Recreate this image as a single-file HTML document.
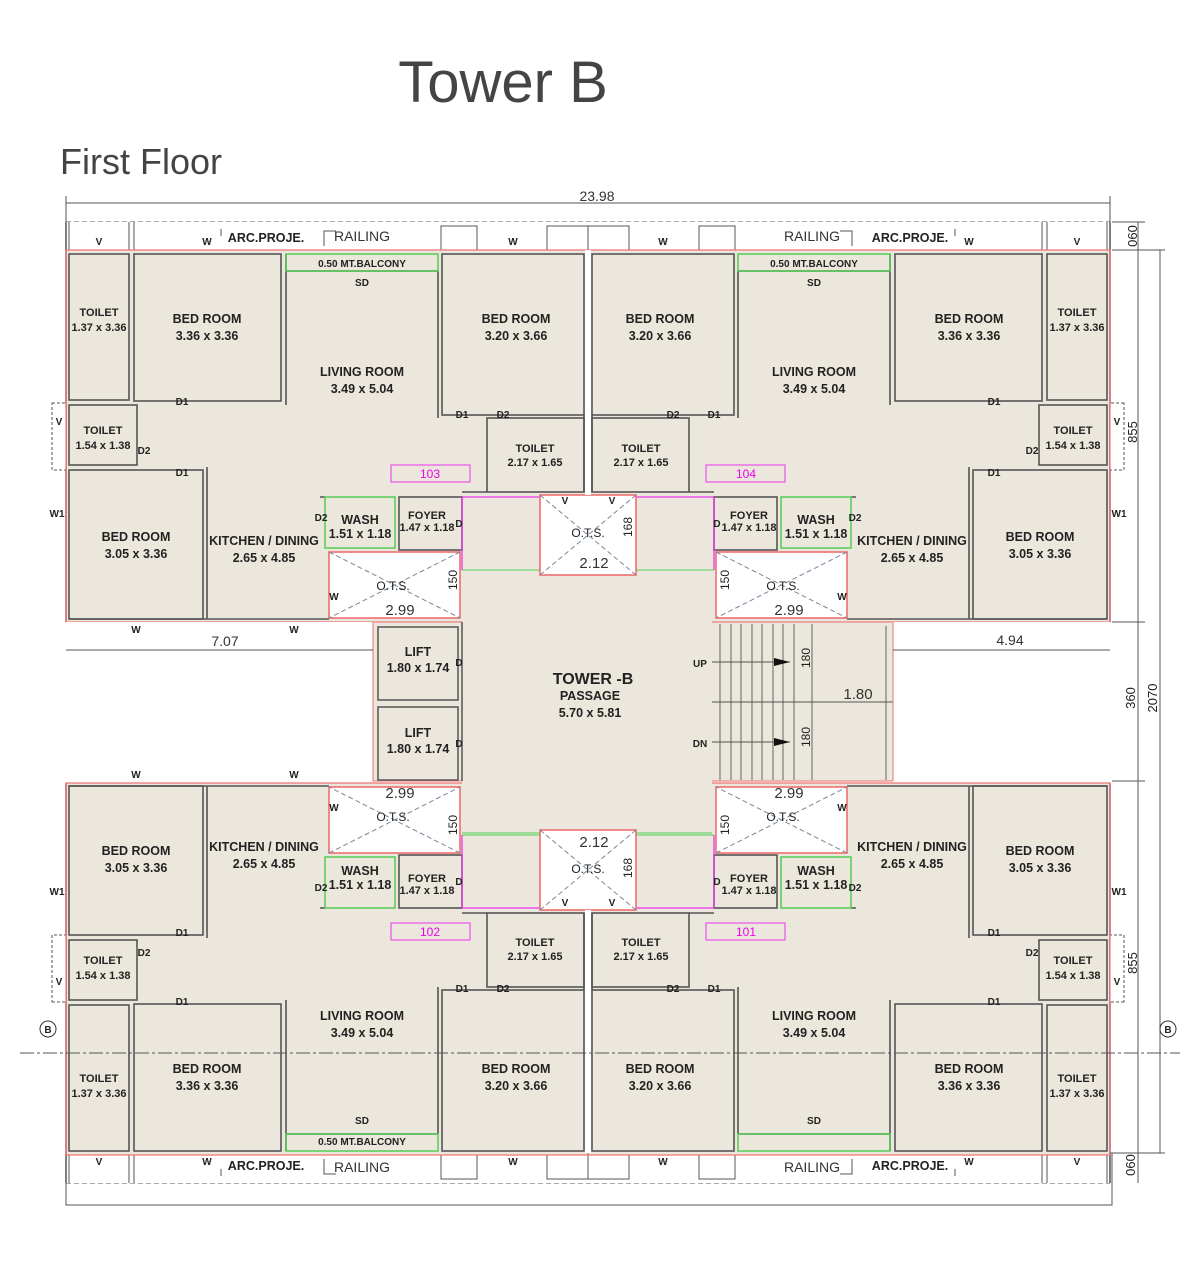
<!DOCTYPE html>
<html><head><meta charset="utf-8"><style>
html,body{margin:0;padding:0;background:#fff;}
svg{display:block}
.t{font-family:"Liberation Sans Narrow","Liberation Sans",sans-serif;fill:#222;text-anchor:middle;}
.n{font-size:12.5px;font-weight:bold;}
.d{font-size:12px;}
.s{font-size:10px;font-weight:bold;}
.m{font-size:15px;fill:#333;}
</style></head><body>
<svg width="1200" height="1276" viewBox="0 0 1200 1276" xmlns="http://www.w3.org/2000/svg">
<defs>
<g id="q">
 <rect x="66" y="250" width="522" height="372" fill="#ebe7dc"/>
 <!-- top strip -->
 <rect x="66" y="222" width="522" height="28" fill="#fff"/>
 <line x1="66" y1="222" x2="66" y2="622" stroke="#555" stroke-width="1.5"/>
 <line x1="69" y1="222" x2="69" y2="250" stroke="#555"/>
 <line x1="129" y1="222" x2="129" y2="250" stroke="#555"/>
 <line x1="134" y1="222" x2="134" y2="250" stroke="#555"/>
 <rect x="441" y="226" width="36" height="24" fill="#fff" stroke="#555"/>
 <rect x="547" y="226" width="41" height="24" fill="#fff" stroke="#555"/>
 <path d="M221 236 V229 M324 246 V231 H336" stroke="#555" fill="none"/>
 <!-- side bump -->
 <rect x="52" y="403" width="14" height="67" fill="#fff" stroke="#555" stroke-dasharray="3,2"/>
 <!-- rooms -->
 <g fill="none" stroke="#555" stroke-width="1.6">
  <rect x="69" y="254" width="60" height="146"/>
  <rect x="134" y="254" width="147" height="147"/>
  <rect x="442" y="254" width="142" height="161"/>
  <rect x="69" y="405" width="68" height="60"/>
  <rect x="69" y="470" width="134" height="149"/>
  <rect x="487" y="418" width="97" height="74"/>
  <rect x="399" y="497" width="63" height="53"/>
  <path d="M286 254 V405 M438 271 V418 M207 467 V619 M69 619 H329 M286 271 H438 M320 497 H325 M462 492 H487 M584 415 V492"/>
 </g>
 <rect x="286" y="254" width="152" height="17" fill="none" stroke="#5c5" stroke-width="1.5"/>
 <rect x="325" y="497" width="70" height="51" fill="none" stroke="#5c5" stroke-width="1.5"/>
 <rect x="329" y="552" width="131" height="66" fill="#fff" stroke="#e66" stroke-width="1.5"/>
 <path d="M329 552 L460 618 M460 552 L329 618" stroke="#789" stroke-dasharray="5,3"/>
 <path d="M462 497 V570 M462 497 H540" stroke="#e3e" stroke-width="1.3"/>
 <line x1="462" y1="570" x2="540" y2="570" stroke="#5c5"/>
 <rect x="391" y="465" width="79" height="17" fill="none" stroke="#e3e"/>
 <rect x="66" y="250" width="522" height="372" fill="none" stroke="#f07070" stroke-width="1.2"/>
</g>
</defs>

<text x="503" y="102" style="font-family:'Liberation Sans',sans-serif;font-size:58px;fill:#444;text-anchor:middle">Tower B</text>
<text x="60" y="174" style="font-family:'Liberation Sans',sans-serif;font-size:36px;fill:#444">First Floor</text>

<!-- outer dims -->
<line x1="66" y1="203" x2="1110" y2="203" stroke="#555"/>
<line x1="66" y1="196" x2="66" y2="222" stroke="#555"/>
<line x1="1110" y1="196" x2="1110" y2="222" stroke="#555"/>
<text class="t m" x="597" y="201" style="font-size:14px">23.98</text>
<line x1="66" y1="222" x2="1110" y2="222" stroke="#555" stroke-dasharray="5,3"/>
<line x1="66" y1="1183" x2="1110" y2="1183" stroke="#555" stroke-dasharray="5,3"/>
<rect x="66" y="1153" width="1046" height="52" fill="none" stroke="#555"/>

<use href="#q"/>
<use href="#q" transform="translate(1176,0) scale(-1,1)"/>
<use href="#q" transform="translate(0,1405) scale(1,-1)"/>
<use href="#q" transform="translate(1176,1405) scale(-1,-1)"/>

<!-- center core -->
<rect x="462" y="575" width="250" height="258" fill="#ebe7dc"/>
<line x1="462" y1="570" x2="712" y2="570" stroke="#5c5"/>
<line x1="462" y1="833" x2="712" y2="833" stroke="#5c5"/>
<rect x="66" y="622" width="307" height="159" fill="#fff"/>
<rect x="893" y="622" width="217" height="159" fill="#fff"/>
<rect x="373" y="622" width="89" height="159" fill="#ebe7dc" stroke="#f07070"/>
<rect x="378" y="627" width="80" height="73" fill="none" stroke="#555" stroke-width="1.5"/>
<rect x="378" y="707" width="80" height="73" fill="none" stroke="#555" stroke-width="1.5"/>
<line x1="462" y1="622" x2="462" y2="781" stroke="#555" stroke-width="1.5"/>
<rect x="712" y="622" width="181" height="159" fill="#ebe7dc"/>
<g stroke="#555" stroke-width="0.9">
 <line x1="720" y1="624" x2="720" y2="780"/><line x1="731" y1="624" x2="731" y2="780"/><line x1="741" y1="624" x2="741" y2="780"/><line x1="752" y1="624" x2="752" y2="780"/><line x1="762" y1="624" x2="762" y2="780"/><line x1="773" y1="624" x2="773" y2="780"/><line x1="783" y1="624" x2="783" y2="780"/><line x1="794" y1="624" x2="794" y2="780"/><line x1="812" y1="624" x2="812" y2="780"/>
 <line x1="712" y1="702" x2="893" y2="702"/>
 <line x1="712" y1="662" x2="790" y2="662"/><line x1="712" y1="742" x2="790" y2="742"/>
 <line x1="886" y1="626" x2="886" y2="780"/>
</g>
<path d="M774 658 L790 662 L774 666Z M774 738 L790 742 L774 746Z" fill="#111"/>
<line x1="893" y1="622" x2="893" y2="781" stroke="#f07070"/>
<line x1="712" y1="622" x2="893" y2="622" stroke="#f07070"/>
<line x1="712" y1="781" x2="893" y2="781" stroke="#f07070"/>
<!-- center OTS -->
<rect x="540" y="495" width="96" height="80" fill="#fff" stroke="#e66" stroke-width="1.5"/>
<path d="M540 495 L636 575 M636 495 L540 575" stroke="#789" stroke-dasharray="5,3"/>
<rect x="540" y="830" width="96" height="80" fill="#fff" stroke="#e66" stroke-width="1.5"/>
<path d="M540 830 L636 910 M636 830 L540 910" stroke="#789" stroke-dasharray="5,3"/>
<line x1="588" y1="250" x2="588" y2="495" stroke="#fff" stroke-width="6"/>
<line x1="588" y1="910" x2="588" y2="1153" stroke="#fff" stroke-width="6"/>

<!-- dims -->
<line x1="66" y1="650" x2="373" y2="650" stroke="#555"/>
<text class="t m" x="225" y="646" style="font-size:14px">7.07</text>
<line x1="893" y1="650" x2="1110" y2="650" stroke="#555"/>
<text class="t m" x="1010" y="645" style="font-size:14px">4.94</text>
<line x1="1138" y1="222" x2="1138" y2="1183" stroke="#555"/>
<line x1="1160" y1="250" x2="1160" y2="1153" stroke="#555"/>
<g stroke="#555"><line x1="1112" y1="250" x2="1165" y2="250"/><line x1="1112" y1="622" x2="1145" y2="622"/><line x1="1112" y1="781" x2="1145" y2="781"/><line x1="1112" y1="1153" x2="1165" y2="1153"/><line x1="1112" y1="222" x2="1145" y2="222"/></g>
<g class="t" style="font-size:13px">
<text transform="translate(1137,432) rotate(-90)">855</text>
<text transform="translate(1137,963) rotate(-90)">855</text>
<text transform="translate(1135,698) rotate(-90)">360</text>
<text transform="translate(1157,698) rotate(-90)">2070</text>
<text transform="translate(1137,236) rotate(-90)">060</text>
<text transform="translate(1135,1165) rotate(-90)">060</text>
</g>
<line x1="20" y1="1053" x2="1180" y2="1053" stroke="#555" stroke-dasharray="14,3,3,3"/>
<circle cx="48" cy="1029" r="8" fill="#fff" stroke="#333"/><text class="t s" x="48" y="1033">B</text>
<circle cx="1168" cy="1029" r="8" fill="#fff" stroke="#333"/><text class="t s" x="1168" y="1033">B</text>

<!-- center labels -->
<g class="t">
<text class="n" x="418" y="656">LIFT</text><text class="n" x="418" y="672">1.80 x 1.74</text>
<text class="n" x="418" y="737">LIFT</text><text class="n" x="418" y="753">1.80 x 1.74</text>
<text class="s" x="459" y="666">D</text><text class="s" x="459" y="747">D</text>
<text x="593" y="684" style="font-size:16px;font-weight:bold">TOWER -B</text>
<text class="n" x="590" y="700">PASSAGE</text><text class="n" x="590" y="717">5.70 x 5.81</text>
<text class="s" x="700" y="667">UP</text><text class="s" x="700" y="747">DN</text>
<text class="d" transform="translate(810,658) rotate(-90)">180</text>
<text class="d" transform="translate(810,737) rotate(-90)">180</text>
<text class="m" x="858" y="699">1.80</text>
<text class="d" x="588" y="537">O.T.S.</text><text class="m" x="594" y="568">2.12</text>
<text class="d" transform="translate(632,527) rotate(-90)">168</text>
<text class="d" x="588" y="873">O.T.S.</text><text class="m" x="594" y="847">2.12</text>
<text class="d" transform="translate(632,868) rotate(-90)">168</text>
<text class="s" x="565" y="504">V</text><text class="s" x="612" y="504">V</text>
<text class="s" x="565" y="906">V</text><text class="s" x="612" y="906">V</text>
</g>

<!-- TL -->
<g class="t">
<text class="s" x="99" y="245">V</text><text class="s" x="207" y="245">W</text><text class="s" x="513" y="245">W</text>
<text class="n" x="266" y="242">ARC.PROJE.</text><text class="m" x="362" y="241" style="font-size:14px">RAILING</text>
<text class="s" x="362" y="267">0.50 MT.BALCONY</text><text class="s" x="362" y="286">SD</text>
<text class="s" x="99" y="316" style="font-size:11px">TOILET</text><text class="s" x="99" y="331" style="font-size:11px">1.37 x 3.36</text>
<text class="n" x="207" y="323">BED ROOM</text><text class="n" x="207" y="340">3.36 x 3.36</text>
<text class="n" x="362" y="376">LIVING ROOM</text><text class="n" x="362" y="393">3.49 x 5.04</text>
<text class="n" x="516" y="323">BED ROOM</text><text class="n" x="516" y="340">3.20 x 3.66</text>
<text class="s" x="182" y="405">D1</text><text class="s" x="462" y="418">D1</text><text class="s" x="503" y="418">D2</text>
<text class="s" x="103" y="434" style="font-size:11px">TOILET</text><text class="s" x="103" y="449" style="font-size:11px">1.54 x 1.38</text>
<text class="s" x="144" y="454">D2</text><text class="s" x="59" y="425">V</text><text class="s" x="182" y="476">D1</text>
<text class="d" x="430" y="478" style="fill:#e0e">103</text>
<text class="s" x="535" y="452" style="font-size:11px">TOILET</text><text class="s" x="535" y="466" style="font-size:11px">2.17 x 1.65</text>
<text class="s" x="321" y="521">D2</text><text class="n" x="360" y="524">WASH</text><text class="n" x="360" y="538">1.51 x 1.18</text>
<text class="s" x="427" y="519" style="font-size:11px">FOYER</text><text class="s" x="427" y="531" style="font-size:11px">1.47 x 1.18</text><text class="s" x="459" y="527">D</text>
<text class="s" x="57" y="517">W1</text>
<text class="n" x="136" y="541">BED ROOM</text><text class="n" x="136" y="558">3.05 x 3.36</text>
<text class="n" x="264" y="545">KITCHEN / DINING</text><text class="n" x="264" y="562">2.65 x 4.85</text>
<text class="d" x="393" y="590">O.T.S.</text><text class="m" x="400" y="615">2.99</text><text class="s" x="334" y="600">W</text>
<text class="d" transform="translate(457,580) rotate(-90)">150</text>
<text class="s" x="136" y="633">W</text><text class="s" x="294" y="633">W</text>
</g>
<!-- TR -->
<g class="t">
<text class="s" x="1077" y="245">V</text><text class="s" x="969" y="245">W</text><text class="s" x="663" y="245">W</text>
<text class="n" x="910" y="242">ARC.PROJE.</text><text class="m" x="812" y="241" style="font-size:14px">RAILING</text>
<text class="s" x="814" y="267">0.50 MT.BALCONY</text><text class="s" x="814" y="286">SD</text>
<text class="s" x="1077" y="316" style="font-size:11px">TOILET</text><text class="s" x="1077" y="331" style="font-size:11px">1.37 x 3.36</text>
<text class="n" x="969" y="323">BED ROOM</text><text class="n" x="969" y="340">3.36 x 3.36</text>
<text class="n" x="814" y="376">LIVING ROOM</text><text class="n" x="814" y="393">3.49 x 5.04</text>
<text class="n" x="660" y="323">BED ROOM</text><text class="n" x="660" y="340">3.20 x 3.66</text>
<text class="s" x="994" y="405">D1</text><text class="s" x="714" y="418">D1</text><text class="s" x="673" y="418">D2</text>
<text class="s" x="1073" y="434" style="font-size:11px">TOILET</text><text class="s" x="1073" y="449" style="font-size:11px">1.54 x 1.38</text>
<text class="s" x="1032" y="454">D2</text><text class="s" x="1117" y="425">V</text><text class="s" x="994" y="476">D1</text>
<text class="d" x="746" y="478" style="fill:#e0e">104</text>
<text class="s" x="641" y="452" style="font-size:11px">TOILET</text><text class="s" x="641" y="466" style="font-size:11px">2.17 x 1.65</text>
<text class="s" x="855" y="521">D2</text><text class="n" x="816" y="524">WASH</text><text class="n" x="816" y="538">1.51 x 1.18</text>
<text class="s" x="749" y="519" style="font-size:11px">FOYER</text><text class="s" x="749" y="531" style="font-size:11px">1.47 x 1.18</text><text class="s" x="717" y="527">D</text>
<text class="s" x="1119" y="517">W1</text>
<text class="n" x="1040" y="541">BED ROOM</text><text class="n" x="1040" y="558">3.05 x 3.36</text>
<text class="n" x="912" y="545">KITCHEN / DINING</text><text class="n" x="912" y="562">2.65 x 4.85</text>
<text class="d" x="783" y="590">O.T.S.</text><text class="m" x="789" y="615">2.99</text><text class="s" x="842" y="600">W</text>
<text class="d" transform="translate(729,580) rotate(-90)">150</text>
</g>
<!-- BL -->
<g class="t">
<text class="s" x="99" y="1165">V</text><text class="s" x="207" y="1165">W</text><text class="s" x="513" y="1165">W</text>
<text class="n" x="266" y="1170">ARC.PROJE.</text><text class="m" x="362" y="1172" style="font-size:14px">RAILING</text>
<text class="s" x="362" y="1145">0.50 MT.BALCONY</text><text class="s" x="362" y="1124">SD</text>
<text class="s" x="99" y="1082" style="font-size:11px">TOILET</text><text class="s" x="99" y="1097" style="font-size:11px">1.37 x 3.36</text>
<text class="n" x="207" y="1073">BED ROOM</text><text class="n" x="207" y="1090">3.36 x 3.36</text>
<text class="n" x="362" y="1020">LIVING ROOM</text><text class="n" x="362" y="1037">3.49 x 5.04</text>
<text class="n" x="516" y="1073">BED ROOM</text><text class="n" x="516" y="1090">3.20 x 3.66</text>
<text class="s" x="182" y="1005">D1</text><text class="s" x="462" y="992">D1</text><text class="s" x="503" y="992">D2</text>
<text class="s" x="103" y="964" style="font-size:11px">TOILET</text><text class="s" x="103" y="979" style="font-size:11px">1.54 x 1.38</text>
<text class="s" x="144" y="956">D2</text><text class="s" x="59" y="985">V</text><text class="s" x="182" y="936">D1</text>
<text class="d" x="430" y="936" style="fill:#e0e">102</text>
<text class="s" x="535" y="946" style="font-size:11px">TOILET</text><text class="s" x="535" y="960" style="font-size:11px">2.17 x 1.65</text>
<text class="s" x="321" y="891">D2</text><text class="n" x="360" y="875">WASH</text><text class="n" x="360" y="889">1.51 x 1.18</text>
<text class="s" x="427" y="882" style="font-size:11px">FOYER</text><text class="s" x="427" y="894" style="font-size:11px">1.47 x 1.18</text><text class="s" x="459" y="885">D</text>
<text class="s" x="57" y="895">W1</text>
<text class="n" x="136" y="855">BED ROOM</text><text class="n" x="136" y="872">3.05 x 3.36</text>
<text class="n" x="264" y="851">KITCHEN / DINING</text><text class="n" x="264" y="868">2.65 x 4.85</text>
<text class="d" x="393" y="821">O.T.S.</text><text class="m" x="400" y="798">2.99</text><text class="s" x="334" y="811">W</text>
<text class="d" transform="translate(457,825) rotate(-90)">150</text>
<text class="s" x="136" y="778">W</text><text class="s" x="294" y="778">W</text>
</g>
<!-- BR -->
<g class="t">
<text class="s" x="1077" y="1165">V</text><text class="s" x="969" y="1165">W</text><text class="s" x="663" y="1165">W</text>
<text class="n" x="910" y="1170">ARC.PROJE.</text><text class="m" x="812" y="1172" style="font-size:14px">RAILING</text>
<text class="s" x="814" y="1124">SD</text>
<text class="s" x="1077" y="1082" style="font-size:11px">TOILET</text><text class="s" x="1077" y="1097" style="font-size:11px">1.37 x 3.36</text>
<text class="n" x="969" y="1073">BED ROOM</text><text class="n" x="969" y="1090">3.36 x 3.36</text>
<text class="n" x="814" y="1020">LIVING ROOM</text><text class="n" x="814" y="1037">3.49 x 5.04</text>
<text class="n" x="660" y="1073">BED ROOM</text><text class="n" x="660" y="1090">3.20 x 3.66</text>
<text class="s" x="994" y="1005">D1</text><text class="s" x="714" y="992">D1</text><text class="s" x="673" y="992">D2</text>
<text class="s" x="1073" y="964" style="font-size:11px">TOILET</text><text class="s" x="1073" y="979" style="font-size:11px">1.54 x 1.38</text>
<text class="s" x="1032" y="956">D2</text><text class="s" x="1117" y="985">V</text><text class="s" x="994" y="936">D1</text>
<text class="d" x="746" y="936" style="fill:#e0e">101</text>
<text class="s" x="641" y="946" style="font-size:11px">TOILET</text><text class="s" x="641" y="960" style="font-size:11px">2.17 x 1.65</text>
<text class="s" x="855" y="891">D2</text><text class="n" x="816" y="875">WASH</text><text class="n" x="816" y="889">1.51 x 1.18</text>
<text class="s" x="749" y="882" style="font-size:11px">FOYER</text><text class="s" x="749" y="894" style="font-size:11px">1.47 x 1.18</text><text class="s" x="717" y="885">D</text>
<text class="s" x="1119" y="895">W1</text>
<text class="n" x="1040" y="855">BED ROOM</text><text class="n" x="1040" y="872">3.05 x 3.36</text>
<text class="n" x="912" y="851">KITCHEN / DINING</text><text class="n" x="912" y="868">2.65 x 4.85</text>
<text class="d" x="783" y="821">O.T.S.</text><text class="m" x="789" y="798">2.99</text><text class="s" x="842" y="811">W</text>
<text class="d" transform="translate(729,825) rotate(-90)">150</text>
</g>
</svg>
</body></html>
